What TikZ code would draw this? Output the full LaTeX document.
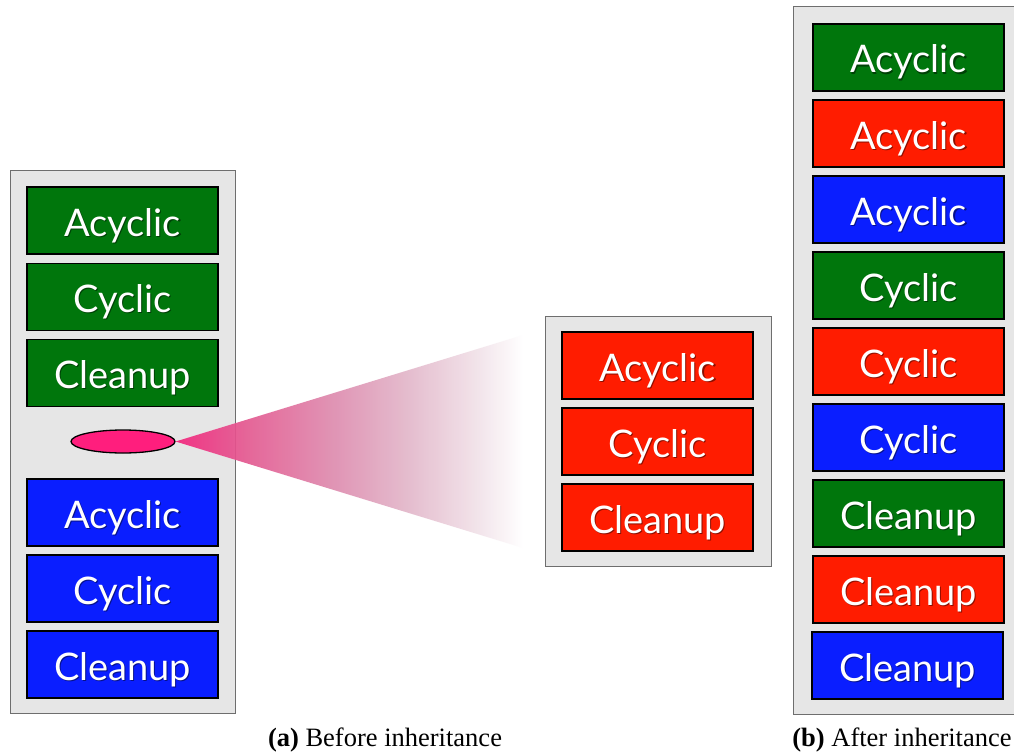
\documentclass[tikz,border=0pt]{standalone}
\usepackage{fontspec}
\setmainfont{Liberation Serif}
\newfontfamily\boxfont{Lato}
\usetikzlibrary{shapes.geometric}
\definecolor{pgreen}{RGB}{0,118,12}
\definecolor{pred}{RGB}{255,28,0}
\definecolor{pblue}{RGB}{10,30,255}
\definecolor{pgray}{RGB}{230,230,230}
\definecolor{pedge}{RGB}{110,110,110}
\definecolor{ppink}{RGB}{255,30,125}
\definecolor{fanA}{RGB}{242,38,125}
\definecolor{fanB}{RGB}{228,90,145}
\definecolor{fanC}{RGB}{222,140,175}
\definecolor{fanD}{RGB}{226,180,200}
\definecolor{fanE}{RGB}{240,222,230}
% fan colour ramp: the path spans 25bp..75bp of the shading
\pgfdeclarehorizontalshading{fanramp}{100bp}{color(0bp)=(fanA); color(25bp)=(fanA);
  color(35bp)=(fanB); color(47.5bp)=(fanC); color(57.5bp)=(fanD);
  color(67.5bp)=(fanE); color(75bp)=(white); color(100bp)=(white)}
% white label with a soft dark drop shadow
\newcommand\shtext[1]{\makebox[0pt][l]{\kern1.2pt\raisebox{-1.4pt}{\color{\shcol}#1}}#1}
\tikzset{
  panel/.style={fill=pgray, draw=pedge, line width=1pt},
  phase/.style={draw=black, line width=1.6pt, minimum width=191pt, minimum height=67pt,
    inner sep=0pt, text height=31pt, text depth=0pt, text=white,
    font=\boxfont\fontsize{38}{40}\selectfont},
  gbox/.style={phase, fill=pgreen, execute at begin node={\def\shcol{pgreen!55!black}}},
  rbox/.style={phase, fill=pred, execute at begin node={\def\shcol{pred!55!black}}},
  bbox/.style={phase, fill=pblue, execute at begin node={\def\shcol{pblue!55!black}}},
  caption/.style={font=\fontsize{26.5}{28}\selectfont, anchor=base}
}
\begin{document}
\begin{tikzpicture}[x=1pt, y=-1pt]
\clip (0,0) rectangle (1014,752);
\fill[white] (0,0) rectangle (1014,752);

% panels
\draw[panel] (10,170) rectangle (235,713);
\draw[panel] (545,316) rectangle (771,566);
\draw[panel] (793,7) rectangle (1030,714);

% left panel: before inheritance
\node[gbox] (la) at (122.5,220.5) {\shtext{Acyclic}};
\node[gbox] (lc) at (122.5,297) {\shtext{Cyclic}};
\node[gbox] (ll) at (122.5,373) {\shtext{Cleanup}};
\node[bbox] (ba) at (122.5,512.5) {\shtext{Acyclic}};
\node[bbox] (bc) at (122.5,588.5) {\shtext{Cyclic}};
\node[bbox] (bl) at (122.5,664.5) {\shtext{Cleanup}};

% fan from the insertion point to the inserted phases
\coordinate (ct) at (523,335);
\coordinate (cb) at (523,548);
\node[ellipse, draw=black, line width=1.3pt, fill=ppink, minimum width=104pt,
  minimum height=23pt, inner sep=0pt] (ins) at (123,441.5) {};
\shade[shading=fanramp, fill opacity=0.93] (ins.east) -- (ct) -- (cb) -- cycle;

% middle panel: inserted phases
\node[rbox] (ma) at (657.5,365.5) {\shtext{Acyclic}};
\node[rbox] (mc) at (657.5,441.5) {\shtext{Cyclic}};
\node[rbox] (ml) at (657.5,517.5) {\shtext{Cleanup}};

% right panel: after inheritance
\begin{scope}[every node/.append style={minimum width=193pt}]
\node[gbox] (r1) at (908.5,57.5) {\shtext{Acyclic}};
\node[rbox] (r2) at (908.5,133.5) {\shtext{Acyclic}};
\node[bbox] (r3) at (908.5,209.5) {\shtext{Acyclic}};
\node[gbox] (r4) at (908.5,285.5) {\shtext{Cyclic}};
\node[rbox] (r5) at (908.5,361.5) {\shtext{Cyclic}};
\node[bbox] (r6) at (908.5,437.5) {\shtext{Cyclic}};
\node[gbox] (r7) at (908.5,513.5) {\shtext{Cleanup}};
\node[rbox] (r8) at (908.5,589.5) {\shtext{Cleanup}};
\node[bbox] (r9) at (907.5,665.5) {\shtext{Cleanup}};
\end{scope}

% captions
\node[caption] (capa) at (385,746) {\textbf{(a)} Before inheritance};
\node[caption] (capb) at (902,746) {\textbf{(b)} After inheritance};
\end{tikzpicture}
\end{document}
